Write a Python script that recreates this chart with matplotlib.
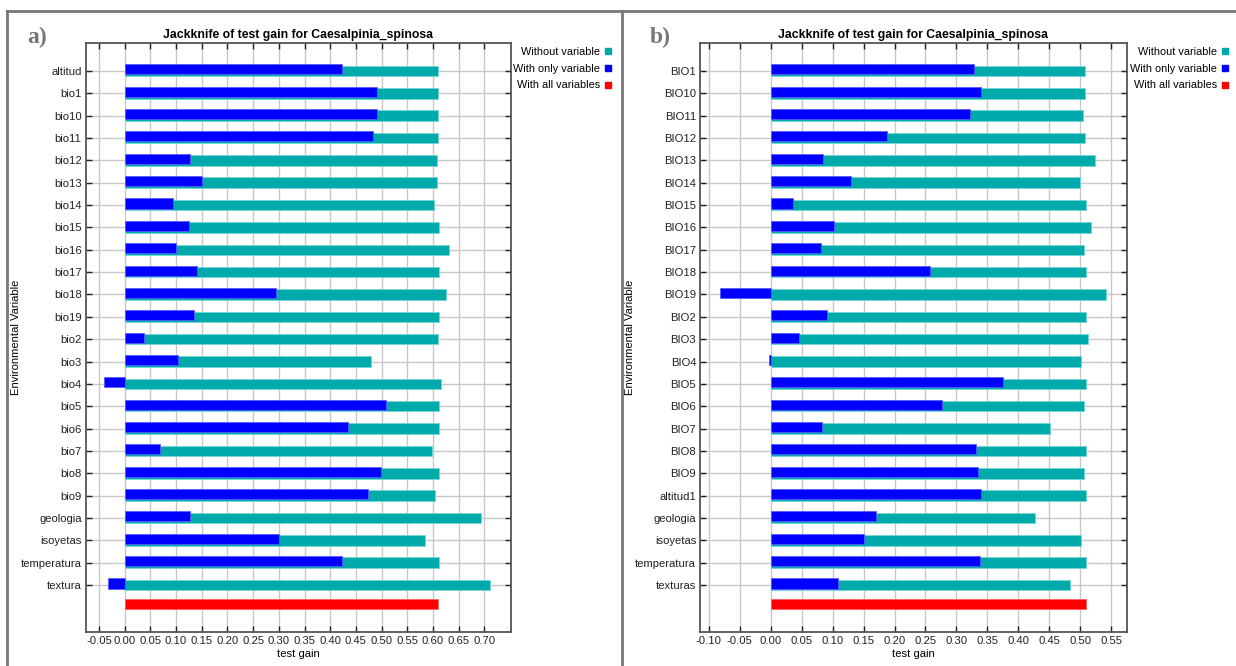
# Jackknife of test gain for Caesalpinia_spinosa (two MaxEnt runs side by side)

import numpy as np
import matplotlib.pyplot as plt
from matplotlib.lines import Line2D

plt.rcParams['font.family'] = ['Liberation Sans', 'DejaVu Sans']
plt.rcParams['axes.unicode_minus'] = False

# panel a)
vars_a = ['altitud', 'bio1', 'bio10', 'bio11', 'bio12', 'bio13', 'bio14', 'bio15',
          'bio16', 'bio17', 'bio18', 'bio19', 'bio2', 'bio3', 'bio4', 'bio5', 'bio6',
          'bio7', 'bio8', 'bio9', 'geologia', 'isoyetas', 'temperatura', 'textura']
without_a = [0.609, 0.609, 0.609, 0.609, 0.607, 0.607, 0.602, 0.611, 0.631, 0.611,
             0.626, 0.611, 0.609, 0.479, 0.615, 0.611, 0.611, 0.599, 0.611, 0.604,
             0.694, 0.585, 0.611, 0.711]
only_a = [0.423, 0.491, 0.491, 0.483, 0.128, 0.150, 0.094, 0.126, 0.099, 0.140,
          0.295, 0.135, 0.0375, 0.103, -0.040, 0.508, 0.434, 0.069, 0.499, 0.473,
          0.128, 0.300, 0.423, -0.0325]
all_a = 0.609
xticks_a = [-0.05, 0.00, 0.05, 0.10, 0.15, 0.20, 0.25, 0.30, 0.35, 0.40, 0.45,
            0.50, 0.55, 0.60, 0.65, 0.70]

# panel b)
vars_b = ['BIO1', 'BIO10', 'BIO11', 'BIO12', 'BIO13', 'BIO14', 'BIO15', 'BIO16',
          'BIO17', 'BIO18', 'BIO19', 'BIO2', 'BIO3', 'BIO4', 'BIO5', 'BIO6', 'BIO7',
          'BIO8', 'BIO9', 'altitud1', 'geologia', 'isoyetas', 'temperatura', 'texturas']
without_b = [0.508, 0.508, 0.5045, 0.507, 0.524, 0.499, 0.509, 0.517, 0.506, 0.509,
             0.542, 0.509, 0.512, 0.501, 0.509, 0.506, 0.451, 0.509, 0.506, 0.509,
             0.427, 0.501, 0.509, 0.484]
only_b = [0.328, 0.339, 0.322, 0.188, 0.0845, 0.129, 0.0355, 0.102, 0.081, 0.258,
          -0.0824, 0.0905, 0.045, -0.002, 0.376, 0.276, 0.0824, 0.332, 0.335, 0.340,
          0.170, 0.151, 0.338, 0.109]
all_b = 0.509
xticks_b = [-0.10, -0.05, 0.00, 0.05, 0.10, 0.15, 0.20, 0.25, 0.30, 0.35, 0.40,
            0.45, 0.50, 0.55]

c_without = '#00aaaa'
c_only = '#0000ff'
c_all = '#ff0000'

W, H = 1236, 666
fig = plt.figure(figsize=(W/100, H/100), dpi=100)


def jackknife(ax, names, without, only, allv, xticks, xlim, tag, tag_x, leg_x, ylab_x):
    n = len(names)
    y = np.arange(n)
    ax.barh(y, without, height=0.47, color=c_without, edgecolor='#6fd8d8',
            linewidth=0.6, zorder=3)
    ax.barh(y - 0.07, only, height=0.45, color=c_only, edgecolor='#5a5aff',
            linewidth=0.6, zorder=4)
    ax.barh([n - 0.15], [allv], height=0.46, color=c_all, edgecolor='#ff6060',
            linewidth=0.6, zorder=4)
    ax.set_yticks(y)
    ax.set_yticklabels(names, fontsize=8.1, color='#222222')
    ax.set_ylim(n + 1.1, -1.25)
    ax.set_xticks(xticks)
    ax.set_xticklabels(['%.2f' % v for v in xticks], fontsize=8.1, color='#222222')
    ax.set_xlim(*xlim)
    ax.grid(True, color='#c8c8c8', lw=1.0, zorder=0)
    ax.set_axisbelow(True)
    ax.tick_params(direction='in', length=4, width=1, color='#222222',
                   top=True, right=True, pad=3)
    for s in ax.spines.values():
        s.set_color('#555555')
        s.set_linewidth(1.3)
    ax.set_title('Jackknife of test gain for Caesalpinia_spinosa', fontsize=8.8,
                 fontweight='bold', pad=3.5)
    ax.set_xlabel('test gain', fontsize=8.1, labelpad=2)
    ax.set_ylabel('Environmental Variable', fontsize=8.1)
    ax.yaxis.set_label_coords(ylab_x, 0.5)
    handles = [Line2D([], [], ls='none', marker='s', ms=4.5, color=c) for c in
               (c_without, c_only, c_all)]
    ax.legend(handles, ['Without variable', 'With only variable', 'With all variables'],
              loc='upper right', bbox_to_anchor=(leg_x, 1 - 47/H),
              bbox_transform=fig.transFigure, frameon=False,
              markerfirst=False, handlelength=0.6, handletextpad=0.4,
              labelspacing=0.62, borderaxespad=0, borderpad=0, fontsize=7.8)
    fig.text(tag_x, 1 - 37/H, tag, fontsize=17, fontweight='bold',
             family='Liberation Serif', color='#777777', va='center')


ax_a = fig.add_axes([85.7/W, 1 - 632/H, (511 - 85.7)/W, (632 - 43)/H])
jackknife(ax_a, vars_a, without_a, only_a, all_a, xticks_a, (-0.076, 0.752),
          'a)', 27/W, 611/W, -0.152)

ax_b = fig.add_axes([700.3/W, 1 - 632/H, (1126.7 - 700.3)/W, (632 - 43)/H])
jackknife(ax_b, vars_b, without_b, only_b, all_b, xticks_b, (-0.1137, 0.575),
          'b)', 650/W, 1228/W, -0.152)

# panel frames
frame = dict(color='#777777', lw=2, transform=fig.transFigure)
fig.add_artist(Line2D([7/W, 1], [1 - 11/H, 1 - 11/H], **frame))
fig.add_artist(Line2D([7/W, 7/W], [0, 1 - 11/H], **frame))
fig.add_artist(Line2D([622/W, 622/W], [0, 1 - 11/H], **frame))

fig.savefig('out.png', dpi=100)
plt.close()
